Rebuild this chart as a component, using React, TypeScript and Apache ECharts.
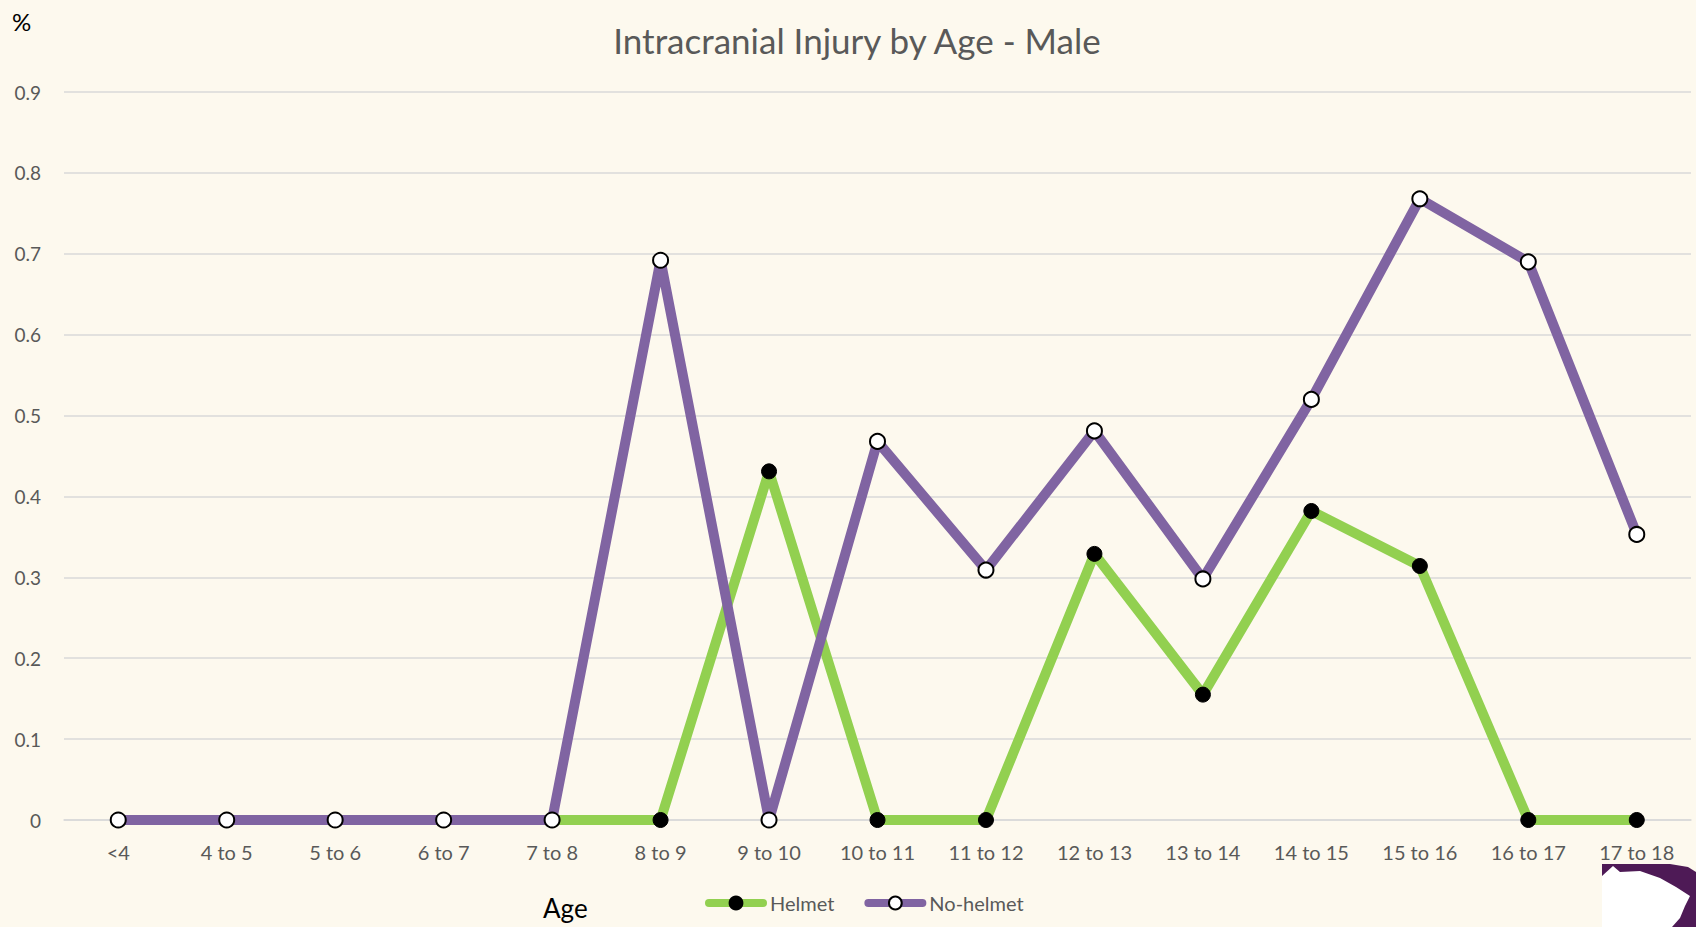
import React, { useEffect, useRef } from "react";
import * as echarts from "echarts";

const categories = ["<4", "4 to 5", "5 to 6", "6 to 7", "7 to 8", "8 to 9", "9 to 10", "10 to 11", "11 to 12", "12 to 13", "13 to 14", "14 to 15", "15 to 16", "16 to 17", "17 to 18"];
const helmet = [0, 0, 0, 0, 0, 0, 0.431, 0, 0, 0.329, 0.155, 0.382, 0.314, 0, 0];
const noHelmet = [0, 0, 0, 0, 0, 0.692, 0, 0.468, 0.309, 0.481, 0.298, 0.52, 0.768, 0.69, 0.353];
const yTicks = [0, 0.1, 0.2, 0.3, 0.4, 0.5, 0.6, 0.7, 0.8, 0.9];

const FONT = "Lato, 'Open Sans', sans-serif";

export default function App() {
  const ref = useRef<HTMLDivElement>(null);
  useEffect(() => {
    if (!ref.current) return;
    const chart = echarts.init(ref.current, undefined, { renderer: "svg" });
    chart.setOption({
      animation: false,
      backgroundColor: "#FDF9EE",
      textStyle: { fontFamily: FONT },
      title: {
        text: "Intracranial Injury by Age - Male",
        left: 852,
        top: 17,
        textAlign: "center",
        textStyle: { fontFamily: FONT, fontSize: 35, fontWeight: "normal", color: "#595959" },
      },
      legend: {
        left: 700,
        top: 888,
        itemWidth: 54,
        itemHeight: 16,
        itemGap: 30,
        lineStyle: { width: 8, cap: "round" },
        textStyle: { fontFamily: FONT, fontSize: 20, color: "#595959", padding: [0, 0, 0, 2] },
        data: ["Helmet", "No-helmet"],
      },
      grid: { left: 64, right: 5, top: 92, bottom: 107 },
      xAxis: {
        type: "category",
        data: categories,
        boundaryGap: true,
        axisLine: { show: true, lineStyle: { color: "#D9D9D9", width: 1.5 } },
        axisTick: { show: false },
        axisLabel: { margin: 22, fontSize: 20, color: "#595959", fontFamily: FONT, interval: 0 },
      },
      yAxis: {
        type: "value",
        min: yTicks[0],
        max: yTicks[yTicks.length - 1],
        interval: 0.1,
        axisLine: { show: false },
        axisTick: { show: false },
        axisLabel: {
          margin: 23,
          fontSize: 19,
          color: "#595959",
          fontFamily: FONT,
          formatter: (v: number) => String(Math.round(v * 10) / 10),
        },
        splitLine: { lineStyle: { color: "#D9D9D9", width: 1.5 } },
      },
      series: [
        {
          name: "Helmet",
          type: "line",
          data: helmet,
          symbol: "circle",
          symbolSize: 15,
          lineStyle: { color: "#92D050", width: 10, join: "round" },
          itemStyle: { color: "#000000", borderColor: "#000000", borderWidth: 1 },
          z: 2,
        },
        {
          name: "No-helmet",
          type: "line",
          data: noHelmet,
          symbol: "circle",
          symbolSize: 15,
          lineStyle: { color: "#8064A2", width: 10, join: "round" },
          itemStyle: { color: "#FFFFFF", borderColor: "#000000", borderWidth: 2 },
          z: 3,
        },
      ],
      graphic: [
        {
          type: "text",
          left: 12,
          top: 9,
          style: { text: "%", fontSize: 24, fill: "#000000", fontFamily: FONT },
        },
        {
          type: "text",
          left: 543,
          top: 895,
          style: { text: "Age", fontSize: 26, fill: "#000000", fontFamily: FONT },
        },
        {
          type: "polygon",
          shape: {
            points: [[1602, 864], [1670, 864], [1688, 867], [1696, 872], [1696, 927], [1602, 927]],
          },
          style: { fill: "#4E1A56" },
        },
        {
          type: "polygon",
          shape: {
            points: [[1602, 876], [1613, 866], [1620, 872], [1640, 871], [1660, 878], [1676, 887], [1690, 896], [1685, 906], [1680, 918], [1672, 927], [1602, 927]],
          },
          style: { fill: "#FFFFFF" },
        },
      ],
    });
    return () => chart.dispose();
  }, []);
  return <div ref={ref} style={{ position: "absolute", left: 0, top: 0, width: 1696, height: 927 }} />;
}
